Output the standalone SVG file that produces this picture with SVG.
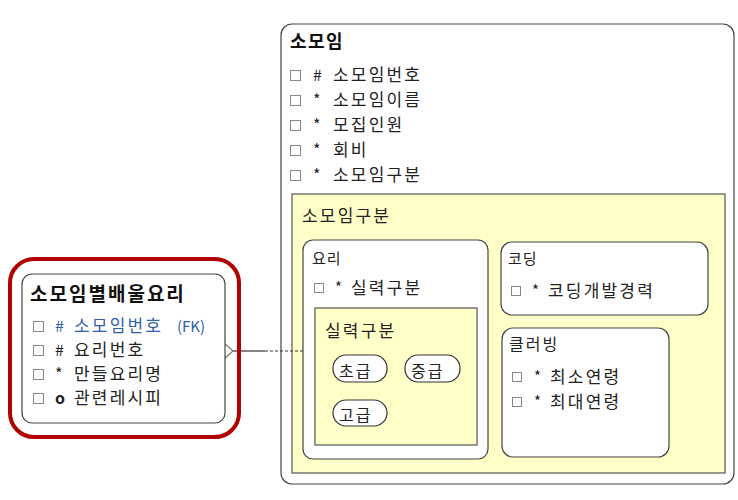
<svg xmlns="http://www.w3.org/2000/svg" width="738" height="500" viewBox="0 0 738 500">
<style>
text{font-family:"Malgun Gothic","Noto Sans CJK KR","Noto Sans",sans-serif;fill:#222;}
.t{font-size:18px;font-weight:bold;fill:#111;letter-spacing:1.5px;}
.r{font-size:17px;letter-spacing:2.2px;}
.s{font-size:15px;letter-spacing:1px;}
.p{font-size:16px;letter-spacing:2px;}
.m{font-size:16px;}
.fk{fill:#3060b0;}
.box{fill:#fff;stroke:#444;stroke-width:1.2;}
.yel{fill:#ffffc8;stroke:#555;stroke-width:1.2;}
.cb{fill:#fff;stroke:#888;stroke-width:1;}
.pill{fill:#fff;stroke:#333;stroke-width:1.2;}
</style>
<rect width="738" height="500" fill="#fff"/>

<g id="somoim">
<rect class="box" x="281" y="24" width="453" height="460" rx="11"/>
<text class="t" x="290" y="48">소모임</text>
<rect class="cb" x="290.5" y="70.5" width="10" height="10"/><text class="m" x="313" y="81">#</text><text class="r" x="333" y="81">소모임번호</text>
<rect class="cb" x="290.5" y="95.5" width="10" height="10"/><text class="m" x="313" y="106">*</text><text class="r" x="333" y="106">소모임이름</text>
<rect class="cb" x="290.5" y="120.5" width="10" height="10"/><text class="m" x="313" y="131">*</text><text class="r" x="333" y="131">모집인원</text>
<rect class="cb" x="290.5" y="145.5" width="10" height="10"/><text class="m" x="313" y="156">*</text><text class="r" x="333" y="156">회비</text>
<rect class="cb" x="290.5" y="170.5" width="10" height="10"/><text class="m" x="313" y="181">*</text><text class="r" x="333" y="181">소모임구분</text>
</g>

<g id="somoimgubun">
<rect class="yel" x="292" y="194" width="433" height="279"/>
<text class="r" x="302" y="222">소모임구분</text>
</g>

<g id="yori">
<rect class="box" x="303" y="240" width="185" height="219" rx="10"/>
<text class="s" x="312" y="264">요리</text>
<rect class="cb" x="314.5" y="283.5" width="9" height="9"/><text class="s" x="335" y="293">*</text><text class="r" x="351" y="294">실력구분</text>
</g>

<g id="silryeok">
<rect class="yel" x="315" y="308" width="162" height="137"/>
<text class="r" x="325" y="337">실력구분</text>
</g>
<g id="chogeup">
<rect class="pill" x="333" y="355" width="54" height="27" rx="13"/>
<text class="p" x="339" y="377">초급</text>
</g>
<g id="junggeup">
<rect class="pill" x="405" y="355" width="55" height="27" rx="13"/>
<text class="p" x="411" y="377">중급</text>
</g>
<g id="gogeup">
<rect class="pill" x="333" y="400" width="54" height="26" rx="13"/>
<text class="p" x="339" y="421">고급</text>
</g>

<g id="coding">
<rect class="box" x="501" y="242" width="207" height="73" rx="11"/>
<text class="s" x="508" y="264">코딩</text>
<rect class="cb" x="511.5" y="286.5" width="9" height="9"/><text class="s" x="532" y="296">*</text><text class="r" x="548" y="297">코딩개발경력</text>
</g>

<g id="clubbing">
<rect class="box" x="502" y="328" width="167" height="129" rx="11"/>
<text class="p" x="509" y="350">클러빙</text>
<rect class="cb" x="512.5" y="372.5" width="9" height="9"/><text class="s" x="534" y="382">*</text><text class="r" x="550" y="383">최소연령</text>
<rect class="cb" x="512.5" y="397.5" width="9" height="9"/><text class="s" x="534" y="407">*</text><text class="r" x="550" y="408">최대연령</text>
</g>

<g id="connectors" fill="none" stroke="#333" stroke-width="1.2">
<line x1="233" y1="351" x2="265" y2="351"/>
<line x1="265" y1="351" x2="303" y2="351" stroke-dasharray="3,2"/>
<polyline points="224,343 233,351 224,359" stroke="#777"/>
</g>

<g id="baeulyori">
<rect x="10" y="259" width="229" height="178" rx="24" fill="none" stroke="#b00000" stroke-width="4"/>
<rect class="box" x="22" y="274" width="203" height="149" rx="10"/>
<text class="t" x="30" y="301" style="font-size:19px;letter-spacing:2px">소모임별배울요리</text>
<rect class="cb" x="33.5" y="321.5" width="10" height="10"/><text class="m fk" x="55" y="332">#</text><text class="r fk" x="74" y="332">소모임번호</text><text class="s fk" x="177" y="332" style="letter-spacing:0">(FK)</text>
<rect class="cb" x="33.5" y="345.5" width="10" height="10"/><text class="m" x="55" y="356">#</text><text class="r" x="74" y="356">요리번호</text>
<rect class="cb" x="33.5" y="369.5" width="10" height="10"/><text class="m" x="55" y="380">*</text><text class="r" x="74" y="380">만들요리명</text>
<rect class="cb" x="33.5" y="393.5" width="10" height="10"/><text class="m" x="55" y="404" font-weight="bold">o</text><text class="r" x="74" y="404">관련레시피</text>
</g>
</svg>
